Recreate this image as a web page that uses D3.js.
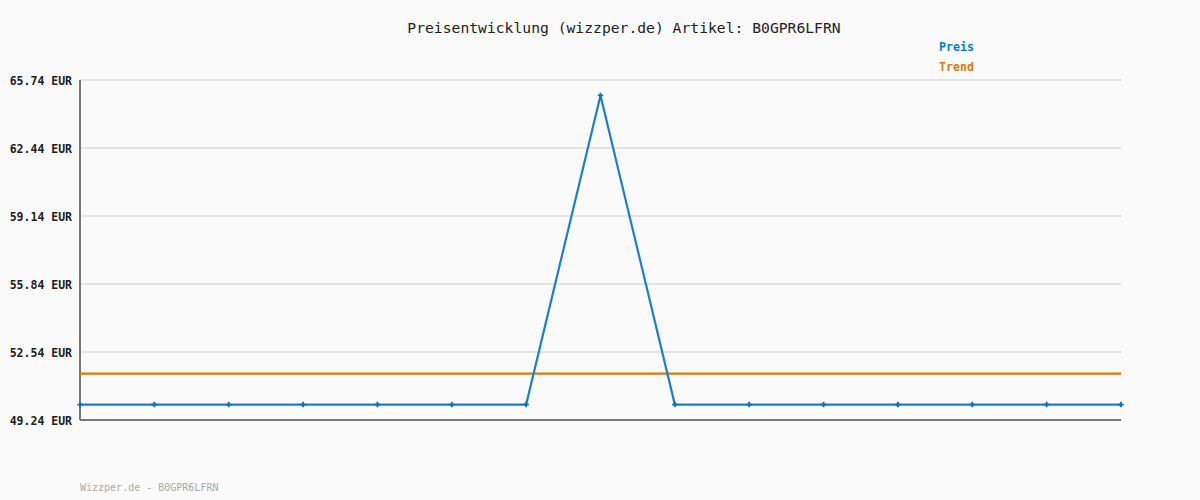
<!DOCTYPE html>
<html>
  <head>
    <title>Preisentwicklung</title>
    <script src="https://d3js.org/d3.v7.min.js"></script>
    <style>
      body { margin: 0; background: #fafafa; }
      text { font-family: "DejaVu Sans Mono", monospace; }
    </style>
  </head>
  <body>
    <svg width="1200" height="500"></svg>
    <script>
      // values
      const days = d3.range(15);
      const prices = [49.99, 49.99, 49.99, 49.99, 49.99, 49.99, 49.99, 64.99,
                      49.99, 49.99, 49.99, 49.99, 49.99, 49.99, 49.99];
      const trend = [51.49, 51.49];
      const yTicks = [49.24, 52.54, 55.84, 59.14, 62.44, 65.74];

      const margin = {top: 80, right: 79, bottom: 80, left: 80};
      const svg = d3.select("svg");
      const width = +svg.attr("width");
      const height = +svg.attr("height");
      const innerWidth = width - margin.left - margin.right;
      const innerHeight = height - margin.top - margin.bottom;

      svg.append("rect").attr("width", width).attr("height", height).attr("fill", "#fafafa");

      const xScale = d3.scaleLinear().domain([0, days.length - 1]).range([0, innerWidth]);
      const yScale = d3.scaleLinear().domain([49.24, 65.74]).range([innerHeight, 0]);

      const g = svg.append("g").attr("transform", `translate(${margin.left}, ${margin.top})`);

      // grid
      g.selectAll(".grid").data(yTicks.slice(1)).enter().append("line")
        .attr("x1", 0).attr("x2", innerWidth)
        .attr("y1", d => yScale(d)).attr("y2", d => yScale(d))
        .attr("stroke", "#e4e4e4").attr("stroke-width", 2);

      // y axis labels
      const yAxis = d3.axisLeft(yScale).tickValues(yTicks).tickSize(0).tickPadding(8)
        .tickFormat(d => d.toFixed(2) + " EUR");
      const ya = g.append("g").call(yAxis);
      ya.select(".domain").remove();
      ya.selectAll("text").attr("font-family", "DejaVu Sans Mono").attr("font-size", 11.5)
        .attr("font-weight", "bold").attr("fill", "#222").attr("dy", "0.35em");

      // axes lines
      g.append("line").attr("x1", 0).attr("x2", 0).attr("y1", 0).attr("y2", innerHeight)
        .attr("stroke", "#777").attr("stroke-width", 2);
      g.append("line").attr("x1", 0).attr("x2", innerWidth).attr("y1", innerHeight).attr("y2", innerHeight)
        .attr("stroke", "#777").attr("stroke-width", 2);

      // trend
      g.append("path").datum(trend)
        .attr("d", d3.line().x((d, i) => xScale(i * (days.length - 1))).y(d => yScale(d)))
        .attr("fill", "none").attr("stroke", "#e07800").attr("stroke-width", 2.2);

      // price line
      g.append("path").datum(prices)
        .attr("d", d3.line().x((d, i) => xScale(days[i])).y(d => yScale(d)))
        .attr("fill", "none").attr("stroke", "#1a80cc").attr("stroke-width", 2.2);

      g.selectAll(".pt").data(prices).enter().append("path")
        .attr("transform", (d, i) => `translate(${xScale(days[i])}, ${yScale(d)})`)
        .attr("d", d3.symbol().type(d3.symbolCross).size(16))
        .attr("fill", "#0a70bb");

      // title
      svg.append("text").attr("x", 624).attr("y", 33).attr("text-anchor", "middle")
        .attr("font-size", 14.7).attr("fill", "#222")
        .text("Preisentwicklung (wizzper.de) Artikel: B0GPR6LFRN");

      // legend
      svg.append("text").attr("x", 939).attr("y", 51).attr("font-size", 11.6)
        .attr("font-weight", "bold").attr("fill", "#0a7cc8").text("Preis");
      svg.append("text").attr("x", 939).attr("y", 71).attr("font-size", 11.6)
        .attr("font-weight", "bold").attr("fill", "#dc7a0a").text("Trend");

      // footer
      svg.append("text").attr("x", 80).attr("y", 491).attr("font-size", 10)
        .attr("fill", "#aaa").text("Wizzper.de - B0GPR6LFRN");
    </script>
  </body>
</html>
